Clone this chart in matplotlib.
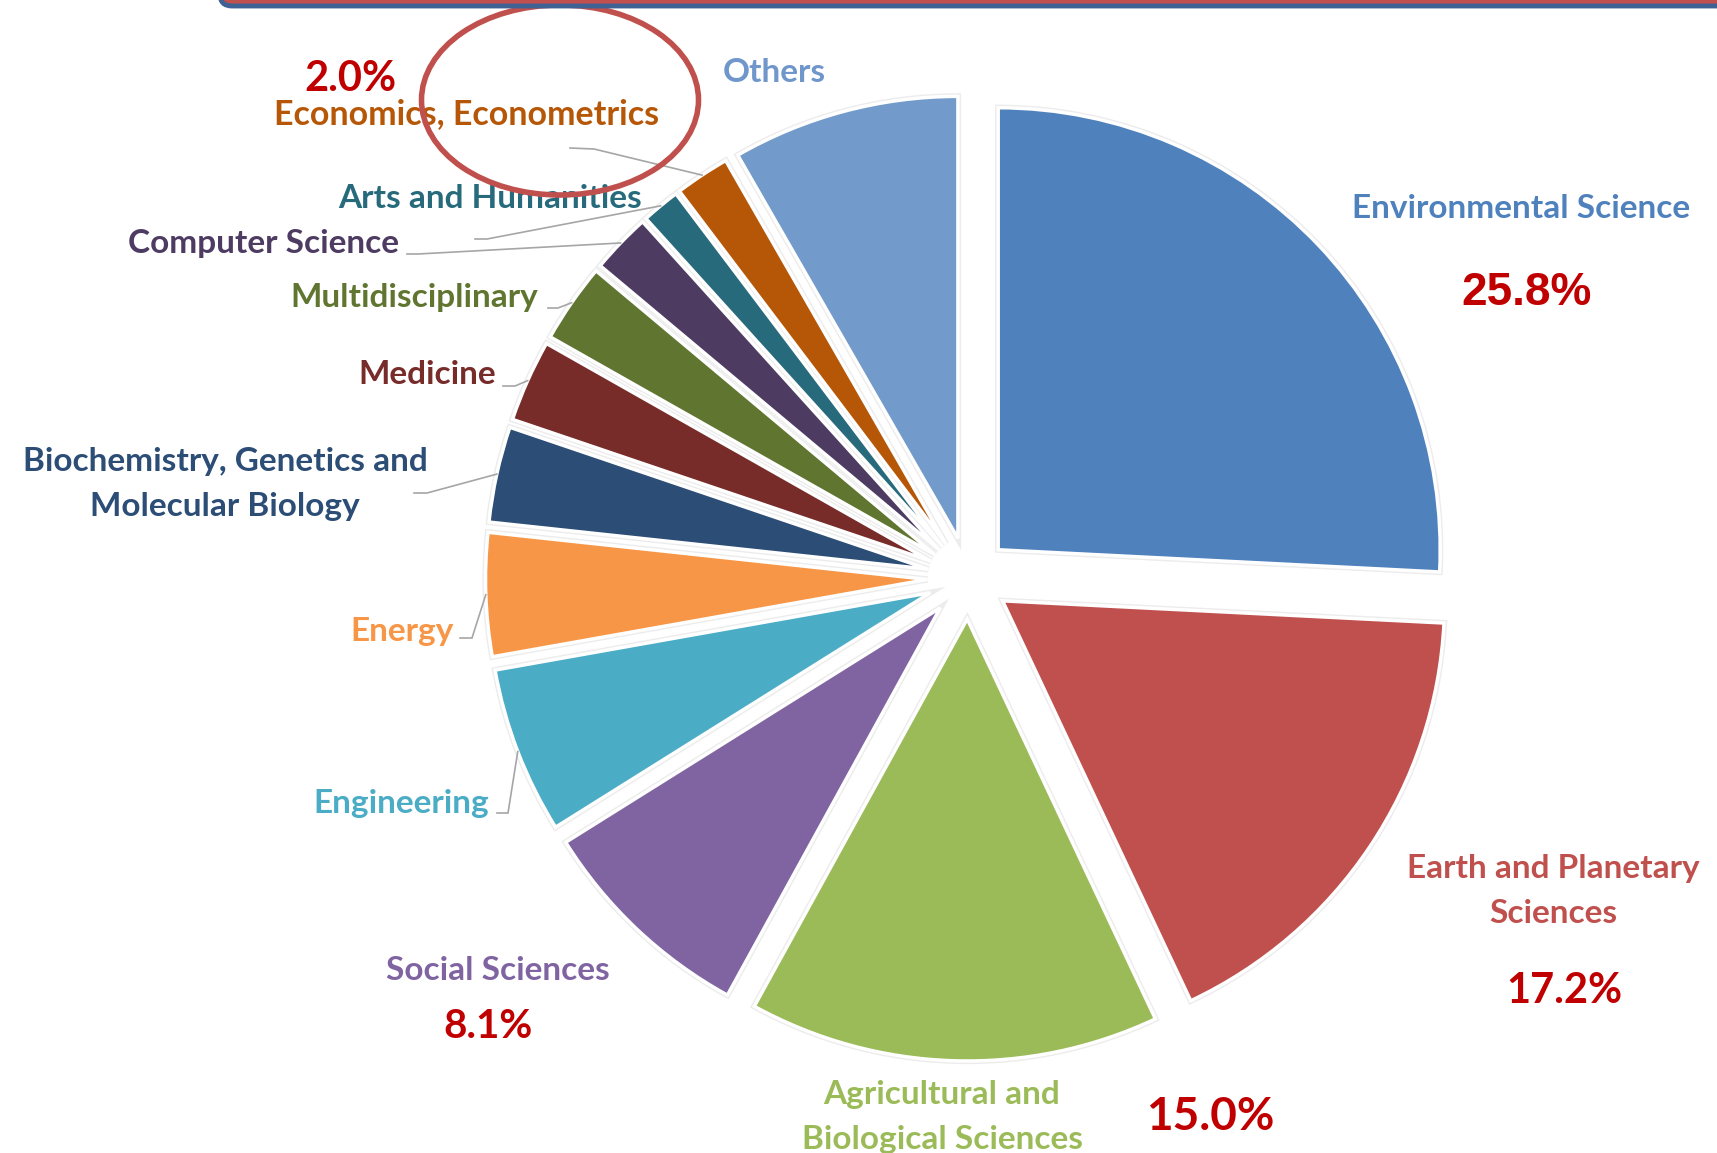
import matplotlib
matplotlib.use("Agg")
import matplotlib.pyplot as plt
from matplotlib.patches import Ellipse, FancyBboxPatch
import numpy as np

W, H = 1717, 1153

# ---- data -------------------------------------------------------------
categories = [
    "Environmental Science",
    "Earth and Planetary\nSciences",
    "Agricultural and\nBiological Sciences",
    "Social Sciences",
    "Engineering",
    "Energy",
    "Biochemistry, Genetics and\nMolecular Biology",
    "Medicine",
    "Multidisciplinary",
    "Computer Science",
    "Arts and Humanities",
    "Economics, Econometrics",
    "Others",
]
shares = [25.8, 17.2, 15.0, 8.1, 6.1, 4.5, 3.5, 3.0, 2.9, 2.2, 1.4, 2.0, 8.3]
slice_colors = ["#4F81BD", "#C0504D", "#9BBB59", "#8064A2", "#4BACC6", "#F79646",
                "#2C4D75", "#772C2A", "#5F7530", "#4D3B62", "#276A7C", "#B65708",
                "#729ACA"]
label_colors = ["#4F81BD", "#C0504D", "#9BBB59", "#8064A2", "#4BACC6", "#F79646",
                "#2C4D75", "#772C2A", "#5F7530", "#4D3B62", "#276A7C", "#B65708",
                "#6F97CB"]

# ---- layout -----------------------------------------------------------
def py(y):
    """convert a top-down pixel row to the axes' bottom-up coordinate"""
    return H - y

CX, CY, R = 968.5, py(578), 442
EXPLODE = 41          # outward shift of every slice, in pixels

# label centre (x, y), font size
label_pos = {
    "Environmental Science": (1521, 209, 24),
    "Earth and Planetary\nSciences": (1553, 891, 24),
    "Agricultural and\nBiological Sciences": (942, 1117, 24),
    "Social Sciences": (498, 971, 24),
    "Engineering": (401, 804, 24),
    "Energy": (402, 632, 24),
    "Biochemistry, Genetics and\nMolecular Biology": (225, 484, 24),
    "Medicine": (427, 374, 24),
    "Multidisciplinary": (414, 298, 24),
    "Computer Science": (263, 243, 24),
    "Arts and Humanities": (490, 199, 24),
    "Economics, Econometrics": (467, 114, 24.5),
    "Others": (774, 73, 24),
}
# percentage text centre (x, y), font size, family
pct_pos = {
    "Environmental Science": (1527, 293, 33, "Liberation Sans"),
    "Earth and Planetary\nSciences": (1564, 991, 30, "Lato"),
    "Agricultural and\nBiological Sciences": (1210, 1117, 33, "Lato"),
    "Social Sciences": (488, 1027, 29, "Lato"),
    "Economics, Econometrics": (350, 79, 30, "Lato"),
}
# leader line start and elbow (pixel rows, top-down)
leader_pts = {
    "Engineering": [(497, 813), (508, 813)],
    "Energy": [(460, 638), (472, 638)],
    "Biochemistry, Genetics and\nMolecular Biology": [(414, 493), (427, 493)],
    "Medicine": [(503, 386), (515, 386)],
    "Multidisciplinary": [(548, 308), (558, 308)],
    "Computer Science": [(407, 254), (418, 254)],
    "Arts and Humanities": [(475, 239), (487, 239)],
    "Economics, Econometrics": [(570, 148), (594, 149)],
}

fig = plt.figure(figsize=(W / 100, H / 100), dpi=100)
ax = fig.add_axes([0, 0, 1, 1])

n = len(shares)
common = dict(startangle=90, counterclock=False, explode=[EXPLODE] * n,
              radius=R, center=(CX, CY))

# faint halo under the slices
ax.pie(shares, colors=["#ececec"] * n,
       wedgeprops=dict(edgecolor="#ececec", linewidth=4.5), **common)
wedges, _ = ax.pie(shares, colors=slice_colors,
                   wedgeprops=dict(edgecolor="white", linewidth=2.5), **common)

ax.set_xlim(0, W)
ax.set_ylim(0, H)
ax.set_aspect("equal")
ax.axis("off")

for cat, w, col in zip(categories, wedges, label_colors):
    x, y, fs = label_pos[cat]
    ax.text(x, py(y), cat, ha="center", va="center", fontsize=fs,
            fontweight="bold", color=col, family="Lato", linespacing=1.68,
            zorder=5)
    if cat in pct_pos:
        px_, py_, pfs, fam = pct_pos[cat]
        val = shares[categories.index(cat)]
        ax.text(px_, py(py_), f"{val:.1f}%", ha="center", va="center",
                fontsize=pfs, fontweight="bold", color="#C00000", family=fam,
                zorder=5)
    if cat in leader_pts:
        mid = np.deg2rad((w.theta1 + w.theta2) / 2)
        ex = w.center[0] + w.r * np.cos(mid)
        ey = w.center[1] + w.r * np.sin(mid)
        (x0, y0), (x1, y1) = leader_pts[cat]
        ax.plot([x0, x1, ex], [py(y0), py(y1), ey], color="#A6A6A6",
                lw=1.2, zorder=4, solid_joinstyle="miter")

# highlight ring around the economics label
ax.add_patch(Ellipse((560, py(100)), 277, 190, fill=False,
                     edgecolor="#C0504D", linewidth=4, zorder=10))

# frame edge of the slide title box
ax.add_patch(FancyBboxPatch((220, py(6)), 1600, 60,
                            boxstyle="round,pad=0,rounding_size=12",
                            facecolor="#C0504D", edgecolor="#3F6296",
                            linewidth=3.5, zorder=11))

fig.savefig("out.png", dpi=100)
